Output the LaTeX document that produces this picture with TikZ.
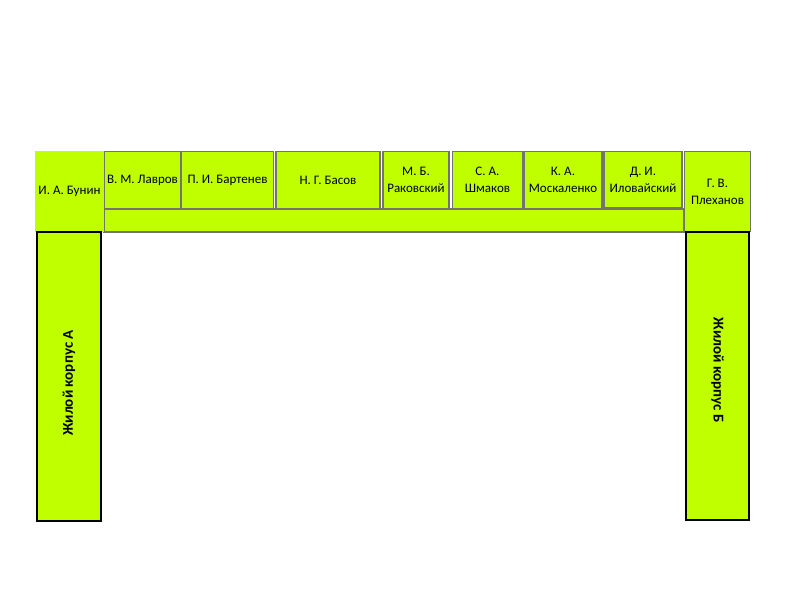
\documentclass[tikz,border=0pt]{standalone}
\usepackage{fontspec}
\setmainfont{Carlito}
\definecolor{limefill}{RGB}{191,255,0}
\definecolor{wallgray}{gray}{0.45}
\begin{document}
\begin{tikzpicture}[x=1pt,y=-1pt,
  lime/.style={fill=limefill},
  cell/.style={lime, draw=wallgray, line width=1.6pt,
    inner sep=0pt, align=center, font=\fontsize{13}{17}\selectfont},
  plain/.style={lime, draw=none, inner sep=0pt, align=center,
    font=\fontsize{13}{17}\selectfont},
  tower/.style={lime, draw=black, line width=2pt, inner sep=0pt},
  wingtext/.style={font=\bfseries\fontsize{15}{18}\selectfont}]
  % canvas
  \useasboundingbox (0,0) rectangle (800,600);
  \fill[white] (0,0) rectangle (800,600);

  % corridor strip under the rooms
  \node[cell, minimum width=580pt, minimum height=23pt] (strip) at (394,220.5) {};

  % corner rooms
  \node[plain, minimum width=69pt, minimum height=81pt] (bunin) at (69.5,191.5) {И. А. Бунин};
  \node[cell, minimum width=66pt, minimum height=80pt] (plekhanov) at (717.5,191.5) {Г. В.\\Плеханов};

  % rooms along the corridor
  \node[cell, minimum width=76pt, minimum height=57pt] (lavrov) at (142.5,180) {В. М. Лавров};
  \node[cell, minimum width=92pt, minimum height=57pt] (bartenev) at (227.5,180) {П. И. Бартенев};
  \node[cell, minimum width=104pt, minimum height=57pt] (basov) at (328,180) {Н. Г. Басов};
  \node[cell, minimum width=66pt, minimum height=57pt] (rakovsky) at (416,180) {М. Б.\\Раковский};
  \node[cell, minimum width=70pt, minimum height=57pt] (shmakov) at (487.5,180) {С. А.\\Шмаков};
  \node[cell, minimum width=78pt, minimum height=57pt] (moskalenko) at (563,180) {К. А.\\Москаленко};
  \node[cell, minimum width=78pt, minimum height=56pt] (ilovaisky) at (643,179.5) {Д. И.\\Иловайский};

  % residential wings
  \node[tower, minimum width=64pt, minimum height=289pt] (wingA) at (69,376.5) {};
  \node[wingtext, rotate=90] at ([yshift=-6.5pt]wingA.center) {Жилой корпус А};
  \node[tower, minimum width=63pt, minimum height=288pt] (wingB) at (717.5,376) {};
  \node[wingtext, rotate=-90] at ([yshift=6pt]wingB.center) {Жилой корпус Б};
\end{tikzpicture}
\end{document}
